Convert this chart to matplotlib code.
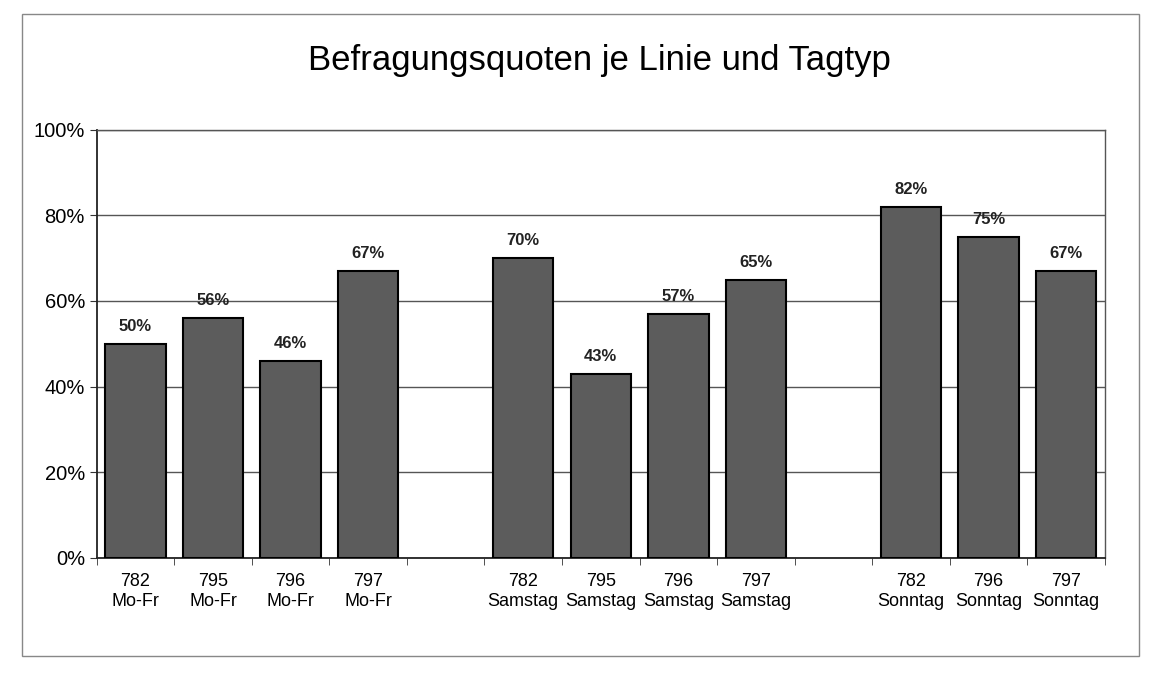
import numpy as np
import matplotlib
matplotlib.use("Agg")
import matplotlib.pyplot as plt
from matplotlib.patches import Rectangle

plt.rcParams['font.family'] = ['Liberation Sans', 'DejaVu Sans']

# Data (empty strings / None = gap between day types)
lines = ["782", "795", "796", "797", "", "782", "795", "796", "797", "", "782", "796", "797"]
day_types = ["Mo-Fr", "Mo-Fr", "Mo-Fr", "Mo-Fr", "",
             "Samstag", "Samstag", "Samstag", "Samstag", "",
             "Sonntag", "Sonntag", "Sonntag"]
quotes = [50, 56, 46, 67, None, 70, 43, 57, 65, None, 82, 75, 67]

labels = [f"{l}\n{d}" if l else "" for l, d in zip(lines, day_types)]
x = np.arange(len(quotes))

fig = plt.figure(figsize=(11.52, 6.76), dpi=100)
ax = fig.add_axes([0.084, 0.175, 0.875, 0.633])

for xi, q in zip(x, quotes):
    if q is None:
        continue
    ax.bar(xi, q, width=0.78, color="#5c5c5c", edgecolor="black", linewidth=1.5, zorder=3)
    ax.text(xi, q + 2.3, f"{q}%", ha="center", va="bottom", fontsize=12,
            fontweight="bold", color="#222222")

ax.set_xlim(-0.5, len(quotes) - 0.5)
ax.set_ylim(0, 100)
ax.set_yticks(range(0, 101, 20))
ax.set_yticklabels([f"{v}%" for v in range(0, 101, 20)], fontsize=14.5)
ax.set_xticks(x)
ax.set_xticklabels(labels, fontsize=13, linespacing=1.2)
ax.tick_params(axis="x", which="major", length=0, pad=11)
ax.set_xticks(np.arange(-0.5, len(quotes), 1), minor=True)
ax.tick_params(axis="x", which="minor", length=5, direction="out", color="#333333")
ax.tick_params(axis="y", length=5, direction="out", color="#333333")

ax.yaxis.grid(True, color="#555555", linewidth=1.0, zorder=0)
ax.set_axisbelow(True)
for side in ["left", "bottom"]:
    ax.spines[side].set_color("#222222")
    ax.spines[side].set_linewidth(1.3)
for side in ["top", "right"]:
    ax.spines[side].set_color("#555555")
    ax.spines[side].set_linewidth(1.0)

fig.text(0.52, 0.91, "Befragungsquoten je Linie und Tagtyp", ha="center", va="center", fontsize=25)

# outer chart frame
fig.patches.append(Rectangle((0.019, 0.03), 0.97, 0.95, transform=fig.transFigure,
                             fill=False, edgecolor="#888888", linewidth=1.0))

fig.savefig("out.png", dpi=100)
